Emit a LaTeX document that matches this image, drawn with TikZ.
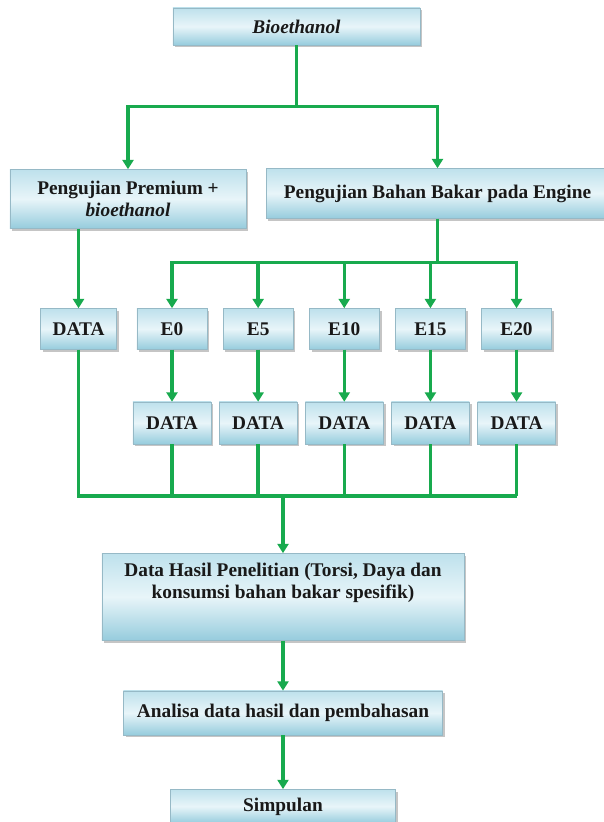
\documentclass[tikz,border=0pt]{standalone}
\usepackage{fontspec}
\setmainfont{Liberation Serif}
\usetikzlibrary{arrows.meta,positioning,shadows}

\definecolor{flowgreen}{RGB}{24,170,78}
\definecolor{boxtop}{RGB}{190,225,236}
\definecolor{boxmid}{RGB}{232,245,249}
\definecolor{boxbot}{RGB}{150,204,221}
\definecolor{boxedge}{RGB}{150,185,198}

\begin{document}
\begin{tikzpicture}[
  font=\fontsize{16.5}{19}\selectfont\bfseries,
  >={Triangle[length=2.8mm, width=3.3mm]},
  flow/.style={draw=flowgreen, line width=2.9pt},
  box/.style={draw=boxedge, line width=0.4pt, top color=boxtop, bottom color=boxbot, middle color=boxmid,
    align=center, inner sep=2pt, text=black!90,
    drop shadow={shadow xshift=0.7mm, shadow yshift=-0.7mm, fill=black!50, opacity=0.45}},
  ebox/.style={box, minimum width=21mm, minimum height=12.3mm},
  dbox/.style={box, minimum width=23.4mm, minimum height=12.6mm},
]
\path[use as bounding box, fill=white] (-88.95mm,7.95mm) rectangle (91.95mm,-238.65mm);

\node[box, minimum width=74.1mm, minimum height=11.1mm] (bio) at (0,0) {\textit{Bioethanol}};
\coordinate[below=18.3mm of bio] (split);
\node[box, below=37.2mm of bio, xshift=-50.55mm, minimum width=70.8mm, minimum height=17.7mm] (prem) {Pengujian Premium +\\ \textit{bioethanol}};
\node[box, below=36.9mm of bio, xshift=42.3mm, minimum width=102.9mm, minimum height=15mm] (eng) {Pengujian Bahan Bakar pada Engine};
\coordinate[below=13.2mm of eng] (br);

\node[ebox, below=78.9mm of bio, xshift=-37.35mm] (e0) {E0};
\node[ebox, right=4.7mm of e0] (e5) {E5};
\node[ebox, right=4.7mm of e5] (e10) {E10};
\node[ebox, right=4.7mm of e10] (e15) {E15};
\node[ebox, right=4.7mm of e15] (e20) {E20};
\node[ebox, left=6mm of e0, minimum width=22.8mm] (d0) {DATA};

\node[dbox, below=15.6mm of e0] (d1) {DATA};
\node[dbox, below=15.6mm of e5] (d5) {DATA};
\node[dbox, below=15.6mm of e10] (d10) {DATA};
\node[dbox, below=15.6mm of e15] (d15) {DATA};
\node[dbox, below=15.6mm of e20] (d20) {DATA};
\coordinate[below=15.6mm of d1] (c1);
\coordinate (mrg) at ([xshift=-4.05mm]bio |- c1);

\node[box, below=17.1mm of mrg, minimum width=108.6mm, minimum height=26.1mm] (res) {Data Hasil Penelitian (Torsi, Daya dan\\ konsumsi bahan bakar spesifik)\\[3mm]\mbox{}};
\node[box, below=15mm of res, minimum width=95.7mm, minimum height=13.2mm] (ana) {Analisa data hasil dan pembahasan};
\node[box, below=16.2mm of ana, minimum width=67.5mm, minimum height=10.2mm] (sim) {Simpulan};

\draw[flow] (bio) -- (split);
\draw[flow, ->] (split) -| (prem);
\draw[flow, ->] (split) -| (eng);
\draw[flow] (eng) -- (br);
\draw[flow, ->] (br) -| (e0);
\draw[flow, ->] (br) -| (e5);
\draw[flow, ->] (br) -| (e10);
\draw[flow, ->] (br) -| (e15);
\draw[flow, ->] (br) -| (e20);
\draw[flow, ->] (prem.south -| d0) -- (d0);
\draw[flow, ->] (e0) -- (d1);
\draw[flow, ->] (e5) -- (d5);
\draw[flow, ->] (e10) -- (d10);
\draw[flow, ->] (e15) -- (d15);
\draw[flow, ->] (e20) -- (d20);
\draw[flow] (d0) |- (d20 |- c1);
\draw[flow] (d1) -- (d1 |- c1);
\draw[flow] (d5) -- (d5 |- c1);
\draw[flow] (d10) -- (d10 |- c1);
\draw[flow] (d15) -- (d15 |- c1);
\draw[flow] (d20) -- (d20 |- c1);
\draw[flow, ->] (mrg) -- (res);
\draw[flow, ->] (res) -- (ana);
\draw[flow, ->] (ana) -- (sim);
\end{tikzpicture}
\end{document}
